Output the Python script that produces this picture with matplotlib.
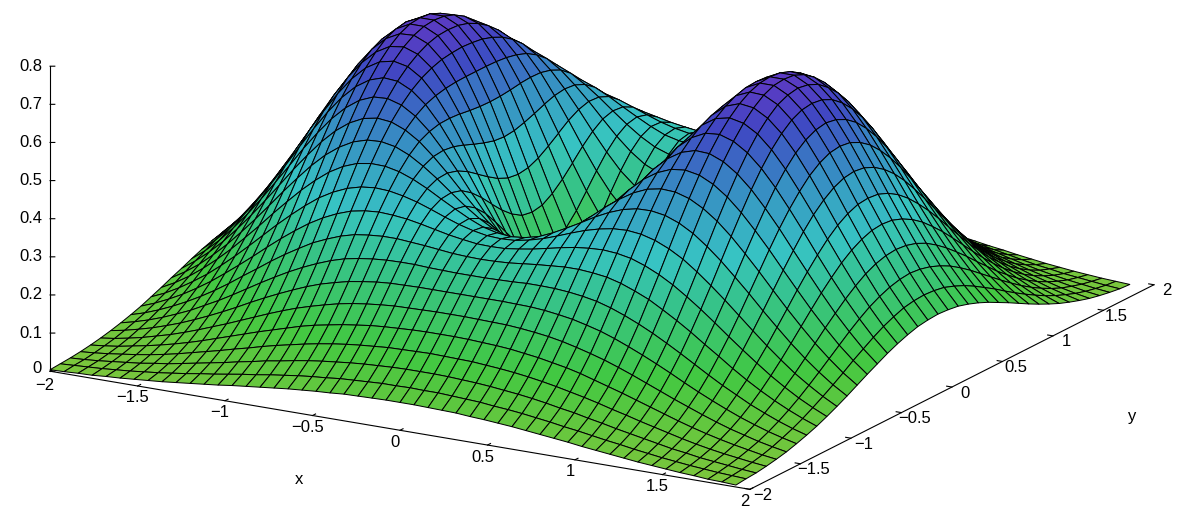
#surface plot
import numpy as np
import matplotlib
matplotlib.use("Agg")
import matplotlib.pyplot as plt
from matplotlib.colors import LinearSegmentedColormap
from mpl_toolkits.mplot3d import proj3d

# height, rows are |y| = 0, 0.1 .. 2, columns are |x| = 0, 0.08 .. 2
# the surface looks mirrored in both axes so only one quarter is kept
quarter = np.array([
    [0,.013,.050,.109,.185,.273,.366,.458,.544,.617,.675,.714,.733,.733,.716,.682,.637,.582,.522,.458,.396,.336,.280,.229,.185,.147],
    [.010,.022,.059,.117,.192,.278,.370,.461,.545,.617,.673,.712,.730,.730,.711,.678,.632,.578,.518,.455,.393,.333,.277,.227,.183,.145],
    [.038,.050,.085,.141,.212,.295,.382,.469,.548,.616,.669,.704,.720,.718,.699,.665,.619,.565,.506,.444,.383,.325,.270,.222,.179,.142],
    [.082,.093,.126,.177,.243,.319,.400,.479,.552,.613,.660,.690,.703,.698,.677,.643,.598,.545,.487,.427,.368,.312,.259,.212,.171,.135],
    [.136,.146,.175,.221,.281,.348,.420,.490,.554,.607,.647,.671,.679,.671,.649,.614,.569,.517,.462,.404,.348,.294,.245,.200,.161,.127],
    [.195,.203,.229,.269,.320,.378,.440,.499,.553,.597,.628,.646,.649,.637,.613,.578,.534,.484,.431,.376,.323,.273,.227,.185,.149,.118],
    [.251,.259,.280,.313,.356,.404,.455,.503,.546,.580,.603,.614,.612,.597,.571,.536,.493,.446,.395,.345,.296,.249,.207,.168,.135,.107],
    [.300,.306,.323,.350,.384,.423,.463,.500,.533,.557,.572,.576,.569,.551,.524,.489,.448,.404,.357,.311,.266,.224,.185,.151,.121,.095],
    [.337,.342,.355,.376,.402,.431,.461,.488,.511,.527,.534,.532,.521,.501,.474,.440,.401,.360,.317,.275,.235,.197,.163,.132,.106,.084],
    [.360,.364,.373,.389,.408,.428,.449,.467,.481,.489,.490,.484,.470,.449,.421,.389,.353,.316,.277,.240,.204,.171,.141,.114,.091,.072],
    [.368,.370,.377,.387,.400,.414,.427,.437,.444,.446,.442,.432,.416,.395,.368,.338,.306,.272,.238,.205,.174,.145,.120,.097,.077,.061],
    [.361,.362,.367,.373,.381,.389,.396,.400,.402,.399,.392,.379,.362,.341,.316,.289,.260,.230,.201,.173,.146,.122,.100,.081,.064,.050],
    [.341,.342,.344,.348,.352,.355,.358,.358,.355,.350,.340,.326,.310,.289,.267,.243,.217,.192,.166,.142,.120,.100,.082,.066,.052,.041],
    [.312,.312,.313,.314,.316,.316,.315,.312,.307,.300,.289,.275,.259,.241,.221,.200,.178,.156,.135,.116,.097,.081,.066,.053,.042,.033],
    [.276,.276,.276,.276,.275,.274,.271,.266,.260,.251,.241,.228,.213,.197,.180,.162,.143,.125,.108,.092,.077,.064,.052,.042,.033,.026],
    [.237,.237,.236,.235,.234,.231,.227,.222,.215,.206,.196,.185,.172,.158,.143,.128,.113,.099,.085,.072,.060,.050,.040,.032,.025,.020],
    [.198,.198,.197,.195,.193,.190,.185,.180,.173,.166,.157,.146,.135,.124,.112,.100,.088,.076,.065,.055,.046,.038,.031,.024,.019,.015],
    [.161,.160,.159,.158,.155,.152,.148,.143,.137,.130,.122,.114,.105,.095,.086,.076,.067,.058,.049,.041,.034,.028,.023,.018,.014,.011],
    [.127,.127,.126,.124,.122,.119,.115,.111,.106,.100,.093,.087,.079,.072,.064,.057,.050,.043,.036,.031,.025,.021,.017,.013,.010,.008],
    [.098,.097,.097,.095,.093,.091,.087,.084,.080,.075,.070,.064,.059,.053,.047,.042,.036,.031,.026,.022,.018,.015,.012,.010,.008,.006],
    [.073,.073,.072,.071,.070,.067,.065,.062,.059,.055,.051,.047,.043,.038,.034,.030,.026,.022,.019,.016,.013,.011,.008,.007,.005,.004],
])

x_ticks = [-2, -1.5, -1, -0.5, 0, 0.5, 1, 1.5, 2]
y_ticks = [-2, -1.5, -1, -0.5, 0, 0.5, 1, 1.5, 2]
z_ticks = [0, 0.1, 0.2, 0.3, 0.4, 0.5, 0.6, 0.7, 0.8]

# colours by height
stops = [(0.0, "#7cc63c"), (0.2, "#42c842"), (0.4, "#36c38a"), (0.53, "#37c3c3"),
         (0.72, "#378cc3"), (0.87, "#3f48c3"), (1.0, "#6137c3")]
zmax_col = 0.75

plt.rcParams['font.family'] = ['Liberation Sans', 'DejaVu Sans']
W, H = 1188, 511
fig = plt.figure(figsize=(W/100, H/100), dpi=100, facecolor='white')

L = 1400
left = 602 - 0.5135*L
bottom = (H - 175.5) - 0.5135*L
ax = fig.add_axes([left/W, bottom/H, L/W, L/H], projection='3d', proj_type='ortho')
ax.patch.set_alpha(0)
ax.view_init(elev=17, azim=-60)
ax.set_xlim(-2, 2, view_margin=0)
ax.set_ylim(-2, 2, view_margin=0)
ax.set_zlim(0, 0.8, view_margin=0)
ax.set_box_aspect((1.0677, 1.0677, 0.4214), zoom=0.8227)
ax.set_axis_off()
ax.computed_zorder = False

# nodes stop one step short of the box corner: x -2 .. 1.92, y -2 .. 1.9
rows = list(range(20, -1, -1)) + list(range(1, 20))
cols = list(range(25, -1, -1)) + list(range(1, 25))
Z = quarter[np.ix_(rows, cols)]
X, Y = np.meshgrid(np.arange(-25, 25)*0.08, np.arange(-20, 20)*0.1)

cmap = LinearSegmentedColormap.from_list("gp", stops)
cell = (Z[:-1, :-1] + Z[1:, :-1] + Z[:-1, 1:] + Z[1:, 1:])/4
ax.plot_surface(X, Y, Z, rstride=1, cstride=1, facecolors=cmap(cell/zmax_col),
                edgecolor='black', linewidth=0.72, shade=False, antialiased=True, zorder=2)

# box edges
ax.plot([-2, 2], [-2, -2], [0, 0], color='black', lw=0.8, zorder=1)
ax.plot([2, 2], [-2, 2], [0, 0], color='black', lw=0.8, zorder=1)
ax.plot([-2, -2], [-2, -2], [0, 0.8], color='black', lw=0.8, zorder=1)


def fmt(v):
    return f"{v:g}".replace("-", "\u2212")


def put_label(x, y, z, text, dx, dy, ha='center'):
    px, py, _ = proj3d.proj_transform(x, y, z, ax.get_proj())
    ax.annotate(text, (px, py), xytext=(dx*0.72, -dy*0.72), textcoords='offset points',
                ha=ha, va='center', fontsize=12, color='black')


for v in x_ticks:
    ax.plot([v, v], [-2, -1.97], [0, 0], color='black', lw=0.8, zorder=1)
    put_label(v, -2, 0, fmt(v), -5, 14 if v == -2 else 12)
for v in y_ticks:
    ax.plot([2, 1.97], [v, v], [0, 0], color='black', lw=0.8, zorder=1)
    put_label(2, v, 0, fmt(v), 13, 6)
for v in z_ticks:
    ax.plot([-2, -1.98], [-2, -1.988], [v, v], color='black', lw=0.8, zorder=1)
    put_label(-2, -2, v, fmt(v), -8, -3 if v == 0 else 0, ha='right')

fig.text(299/W, 1 - 480/H, "x", fontsize=12, ha='center', va='center')
fig.text(1132/W, 1 - 416/H, "y", fontsize=12, ha='center', va='center')

fig.savefig("out.png", dpi=100)
